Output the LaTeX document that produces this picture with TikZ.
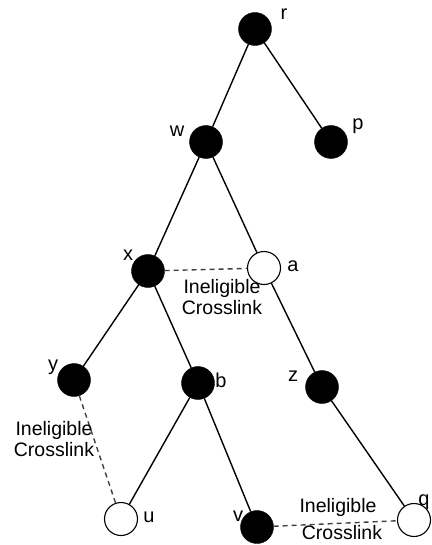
\documentclass[tikz,border=0pt]{standalone}
\usepackage{fontspec}
\setmainfont{Liberation Sans}
\begin{document}
\begin{tikzpicture}[x=1pt,y=-1pt,
  full/.style={circle,fill=black,draw=black,minimum size=33pt,inner sep=0pt},
  hollow/.style={circle,fill=white,draw=black,line width=1.1pt,minimum size=33pt,inner sep=0pt},
  edge/.style={line width=1.4pt},
  xlink/.style={line width=1.4pt,dash pattern=on 5pt off 4pt,draw=black!75},
  lab/.style={font=\fontsize{20}{20}\selectfont,inner sep=0pt},
  note/.style={font=\fontsize{19.5}{21}\selectfont,align=center,inner sep=0pt}]
\useasboundingbox (0,0) rectangle (431,545);
% nodes
\node[full] (r) at (255,29) {};
\node[full] (w) at (206,142) {};
\node[full] (p) at (331,142) {};
\node[full] (x) at (148,271) {};
\node[hollow] (a) at (264,268) {};
\node[full] (y) at (74,380) {};
\node[full] (b) at (198,383) {};
\node[full] (z) at (322,387) {};
\node[hollow] (u) at (121,519) {};
\node[full] (v) at (257,527) {};
\node[hollow] (q) at (414,520) {};
% tree edges
\draw[edge] (r) -- (w);
\draw[edge] (r) -- (p);
\draw[edge] (w) -- (x);
\draw[edge] (w) -- (a);
\draw[edge] (x) -- (y);
\draw[edge] (x) -- (b);
\draw[edge] (a) -- (z);
\draw[edge] (b) -- (u);
\draw[edge] (b) -- (v);
\draw[edge] (z) -- (q);
% crosslinks
\draw[xlink] (x) -- (a);
\draw[xlink] (y) -- (u);
\draw[xlink] (v) -- (q);
% labels
\node[lab] (lr) at (284,14) {r};
\node[lab] (lw) at (177,131) {w};
\node[lab] (lp) at (358,126) {p};
\node[lab] (lx) at (128,255) {x};
\node[lab] (la) at (293,266) {a};
\node[lab] (ly) at (53,367) {y};
\node[lab] (lb) at (221,380) {b};
\node[lab] (lz) at (293,376) {z};
\node[lab] (lu) at (149,517) {u};
\node[lab] (lv) at (238,516) {v};
\node[lab] (lq) at (424,502) {q};
% notes
\node[note] (n1) at (222,297) {Ineligible\\Crosslink};
\node[note] (n2) at (54,439) {Ineligible\\Crosslink};
\node[note] (n3a) at (338,507) {Ineligible};
\node[note] (n3b) at (342,533) {Crosslink};
\end{tikzpicture}
\end{document}
